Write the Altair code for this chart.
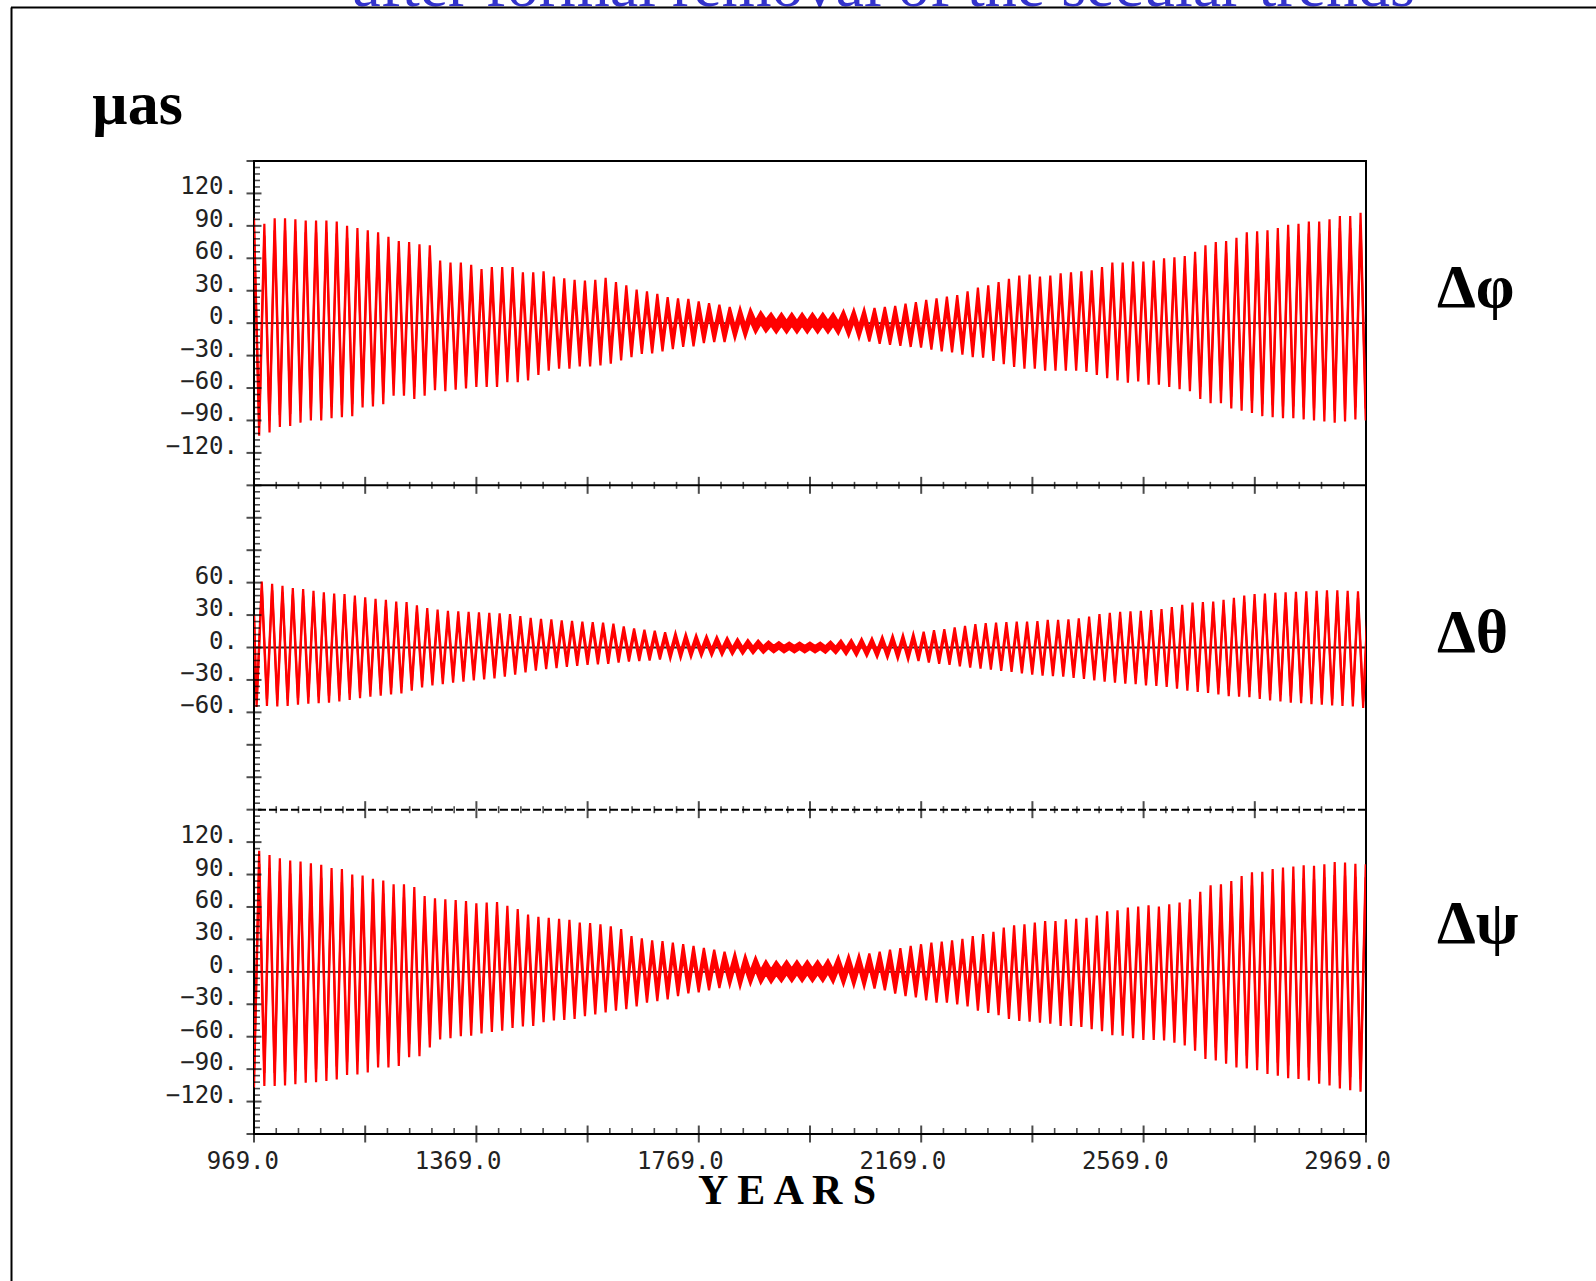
import altair as alt
import pandas as pd

# ---------------- data ----------------
X_START, X_END = 969.0, 2969.0
PERIOD = 18.6          # years per main oscillation cycle (read from peak spacing)

# Delta phi : upper peaks / lower troughs of each cycle (micro-arcsec)
phi_hi = [97, 92, 97, 97, 96, 95, 95, 95, 94, 90, 88, 86, 84, 80, 76, 75, 73, 72,
          58, 56, 56, 54, 50, 52, 52, 52, 47, 47, 48, 43, 41.5, 40, 39.5, 40, 42, 38, 35, 31,
          29.5, 27, 24, 23, 22.5, 20, 18.5, 17, 15, 14, 13, 10.5, 9, 9, 9, 9, 9, 9, 9, 11.5,
          12.5, 13, 14, 15, 16, 18, 19.5, 21.5, 23, 24.5, 26, 29.5, 33, 35, 38, 41, 44, 45, 43, 44, 46, 47,
          48, 49, 52, 56, 56, 57, 57, 58, 60, 61, 62, 66, 72, 75, 76, 79, 84, 85, 86, 88, 91, 92, 94, 94, 96, 99, 99, 102]
phi_lo = [-104, -101, -96, -95, -92, -90, -90, -88, -87, -86, -78, -77, -75, -67, -67, -70, -67, -62,
          -63, -61.5, -60.5, -59, -59, -59, -54.5, -54.5, -53, -48, -44, -42, -42, -40, -40, -39, -37.5, -34.5, -31.5, -28.5,
          -28, -26, -24, -22, -21.5, -18.5, -17.5, -17.5, -14.5, -13, -9, -8, -9, -9, -9, -9, -9, -9, -10, -12,
          -14, -17, -19, -20, -21, -22, -22.5, -24.5, -26, -27, -29, -31.5, -32, -35, -38, -40.5, -42, -42, -44, -44, -44, -44,
          -45, -48, -51, -53, -55, -54, -57, -57, -59, -61, -63, -70, -74, -74, -79, -81, -83, -86, -87, -88, -88, -89, -90, -91, -92, -91, -89, -90]

# Delta theta
theta_start = 30
theta_hi = [61, 59, 57, 55, 54, 52.5, 51, 50, 49.5, 48, 46.5, 45, 44, 42.5, 42, 39, 36.5, 35, 34, 33.5,
            33, 32.5, 32, 31.5, 31, 29, 27.5, 26.5, 26, 25, 24.5, 24, 23.5, 23, 22, 19.5, 17.5, 16.5, 15.5, 14,
            13.5, 12.5, 11.5, 10.5, 10, 9, 8, 7, 6.5, 5.5, 5, 4.5, 4.5, 4.5, 4.5, 5.5, 6.5, 7, 8, 8.5,
            10, 11, 11.5, 12.5, 14.5, 16, 17, 18.5, 20, 21.5, 22.5, 23, 23.5, 24, 24, 24.5, 25.5, 25.5, 26, 27,
            28.5, 31, 32, 33, 33.5, 34, 34.5, 35.5, 37.5, 39.5, 41.5, 42, 42.5, 44, 46, 48, 49.5, 50, 50.5, 51, 51.5, 52, 52.5, 53, 53, 52.5, 52, 51]
theta_lo = [-55, -54, -54.5, -54, -53, -52, -51.5, -51, -50, -48.5, -47, -45.5, -44.5, -43.5, -42.5, -40, -37, -35, -34, -32.5,
            -31.5, -30.5, -29.5, -28.5, -27, -25, -23, -21.5, -20, -19, -18, -17, -16, -15.5, -15, -14, -13, -12.5, -12, -11,
            -10.5, -10, -9, -8, -7.5, -7, -6.5, -6, -5.5, -5, -4.5, -4.5, -4.5, -4.5, -4.5, -5, -5.5, -6.5, -7.5, -8,
            -9, -9.5, -10.5, -11.5, -12.5, -14, -15, -16, -17.5, -18.5, -19.5, -20.5, -21.5, -22.5, -24, -25, -26, -26.5, -27, -28,
            -29, -30.5, -31.5, -32.5, -33.5, -34, -35, -35.5, -36.5, -38, -40, -41, -42, -43.5, -45, -45.5, -46, -47.5, -49, -50, -51, -51.5, -52.5, -53, -53.5, -54, -54.5, -56]

# Delta psi
psi_hi = [112, 108, 105, 103, 102, 100.5, 99, 96, 95, 90, 89, 86, 84.5, 81, 81, 78.5, 70, 68,
          67, 66.5, 65.5, 63.5, 64, 64.5, 61, 58, 53, 51, 50, 49, 48, 45.5, 45, 44, 42, 39.5, 33, 31,
          29, 28.5, 27, 25.5, 24, 22, 20.5, 18.5, 17, 15, 13.5, 10, 9.5, 10, 10, 10, 10, 11, 14, 15,
          15.5, 17, 18.5, 20.5, 22, 24, 25.5, 27, 28, 29, 30.5, 33, 35, 37, 41, 43, 44, 45.5, 47, 47, 48.5, 49,
          50, 52, 56, 57, 59.5, 60.5, 61.5, 60.5, 62.5, 64, 67, 74, 80, 81, 84, 88.5, 92, 92.5, 95, 96.5, 97.5, 98.5, 98, 99.5, 101.5, 101, 100, 99.5]
psi_lo = [-107, -105.5, -105.5, -105, -104, -102.5, -102, -101, -99.5, -95.5, -95, -93, -88.5, -88.5, -87, -79, -78, -70,
          -62.5, -61.5, -59.5, -59, -57, -55.5, -54.5, -52, -50.5, -50, -46.5, -45, -44.5, -43.5, -41, -39.5, -37.5, -36, -34.5, -32,
          -28.5, -27, -25.5, -22.5, -20, -19, -17, -15, -12.5, -14, -11.5, -10.5, -10, -9, -9, -9, -9, -9, -10, -12,
          -13, -14, -15.5, -17, -20, -22.5, -23.5, -26.5, -28.5, -28.5, -30, -32, -36, -38, -40, -43.5, -45.5, -46, -47, -48, -50, -50,
          -51, -53, -55, -58.5, -59, -61.5, -63, -63, -63.5, -65.5, -68, -73, -80.5, -82, -85, -88.5, -89.5, -91, -94.5, -96, -98.5, -99, -100.5, -103.5, -105, -108, -109.5, -111]

# half-width of the short-period smear seen around the curve
smear = {"phi": 5.5, "theta": 3, "psi": 6}

# tick / label values
x_label_years = [969, 1369, 1769, 2169, 2569, 2969]
x_major_years = [969, 1169, 1369, 1569, 1769, 1969, 2169, 2369, 2569, 2769, 2969]
x_minor_step = 40
y_labels_outer = [-120, -90, -60, -30, 0, 30, 60, 90, 120]
y_labels_middle = [-60, -30, 0, 30, 60]
panel_offsets = {"phi": 300, "theta": 0, "psi": -300}
panel_names = ["\u0394\u03c6", "\u0394\u03b8", "\u0394\u03c8"]

# ---------------- build tables ----------------
rows = []


def add(panel, hi, lo, hi_off, lo_off, start=None):
    off = panel_offsets[panel]
    h = smear[panel]
    if start is not None:
        rows.append(dict(panel=panel, year=X_START, up=start + off, dn=start + off))
    for i in range(len(hi)):
        rows.append(dict(panel=panel, year=X_START + hi_off + PERIOD * i,
                         up=hi[i] + off, dn=hi[i] - 2 * h + off))
        rows.append(dict(panel=panel, year=X_START + lo_off + PERIOD * i,
                         up=lo[i] + 2 * h + off, dn=lo[i] + off))


add("phi", phi_hi, phi_lo, 0.0, 9.3)
add("theta", theta_hi, theta_lo, 14.0, 4.7, start=theta_start)
add("psi", psi_hi, psi_lo, 9.3, 0.0)
sig = pd.DataFrame(rows).sort_values(["panel", "year"])

xs = alt.Scale(domain=[X_START, X_END], nice=False, zero=False)
ys = alt.Scale(domain=[-450, 450], nice=False, zero=False)


def X(f="x"):
    return alt.X(f"{f}:Q", scale=xs, axis=None)


def Y(f="y"):
    return alt.Y(f"{f}:Q", scale=ys, axis=None)


RED = "#ff0000"

# zero lines
zero_df = pd.DataFrame({"y": list(panel_offsets.values())})
zero = alt.Chart(zero_df).mark_rule(color="#222222", strokeWidth=1.8).encode(y=Y())

band = alt.Chart(sig).mark_area(color=RED, opacity=1, clip=True).encode(
    x=X("year"), y=Y("dn"), y2="up:Q", detail="panel:N")
line_up = alt.Chart(sig).mark_line(color=RED, strokeWidth=2.2, clip=True).encode(
    x=X("year"), y=Y("up"), detail="panel:N")
line_dn = alt.Chart(sig).mark_line(color=RED, strokeWidth=2.2, clip=True).encode(
    x=X("year"), y=Y("dn"), detail="panel:N")

sep_solid = alt.Chart(pd.DataFrame({"y": [150]})).mark_rule(color="black", strokeWidth=2).encode(y=Y())
sep_dash = alt.Chart(pd.DataFrame({"y": [-150]})).mark_rule(
    color="black", strokeWidth=2, strokeDash=[8, 3]).encode(y=Y())

# y ticks on left axis
y_major = list(range(-450, 451, 30))
y_minor = [v for v in range(-450, 451, 6) if v % 30 != 0]
ytm = alt.Chart(pd.DataFrame({"x": X_START, "y": y_major})).mark_tick(
    orient="horizontal", size=15, thickness=2, color="black").encode(x=X(), y=Y())
ytn = alt.Chart(pd.DataFrame({"x": X_START, "y": y_minor})).mark_tick(
    orient="horizontal", size=6, thickness=1.6, color="black", xOffset=3).encode(x=X(), y=Y())

# x ticks on separators and bottom
x_minor = [X_START + x_minor_step * k for k in range(51) if (x_minor_step * k) % 200 != 0]
xm_rows = [dict(x=yr, y=lvl) for lvl in (150, -150, -450) for yr in x_major_years]
xtm = alt.Chart(pd.DataFrame(xm_rows)).mark_tick(
    orient="vertical", size=17, thickness=2, color="black").encode(x=X(), y=Y())
xn_rows = [dict(x=yr, y=lvl) for lvl in (150, -150) for yr in x_minor]
xtn = alt.Chart(pd.DataFrame(xn_rows)).mark_tick(
    orient="vertical", size=7, thickness=1.6, color="black").encode(x=X(), y=Y())
xnb = alt.Chart(pd.DataFrame({"x": x_minor, "y": -450})).mark_tick(
    orient="vertical", size=6, thickness=1.6, color="black", yOffset=-3).encode(x=X(), y=Y())


# tick labels
def fmt(v):
    return ("\u2212" if v < 0 else "") + f"{abs(v)}."


yl_rows = []
for v in y_labels_outer:
    yl_rows.append(dict(x=X_START, y=v + 300, t=fmt(v)))
    yl_rows.append(dict(x=X_START, y=v - 300, t=fmt(v)))
for v in y_labels_middle:
    yl_rows.append(dict(x=X_START, y=v, t=fmt(v)))
ylab = alt.Chart(pd.DataFrame(yl_rows)).mark_text(
    font="DejaVu Sans Mono", fontSize=24, color="#222222", align="right",
    baseline="alphabetic", dx=-16, dy=1).encode(x=X(), y=Y(), text="t:N")

xlab = alt.Chart(pd.DataFrame({"x": x_label_years, "y": -450,
                               "t": [f"{v}.0" for v in x_label_years]})).mark_text(
    font="DejaVu Sans Mono", fontSize=24, color="#222222", align="right",
    baseline="alphabetic", dx=25, dy=35).encode(x=X(), y=Y(), text="t:N")


# annotations (positions relative to the plot origin)
def note(txt, x, y, size, color="black", weight="bold", align="left"):
    return alt.Chart(pd.DataFrame({"t": [txt]})).mark_text(
        font="Liberation Serif", fontSize=size, fontWeight=weight, color=color,
        align=align, baseline="alphabetic").encode(x=alt.value(x), y=alt.value(y), text="t:N")


title = note("after formal removal of the secular trends", 629.5, -155, 64,
             color="#3333cc", weight="normal", align="center")
unit = note("\u00b5as", -162, -37, 62)
lab1 = note(panel_names[0], 1183, 146, 62)
lab2 = note(panel_names[1], 1183, 491, 62)
lab3 = note(panel_names[2], 1183, 782, 62)
years = note("Y E A R S", 533, 1043, 42, align="center")

one = pd.DataFrame({"a": [0]})
frame_top = alt.Chart(one).mark_rule(color="black", strokeWidth=2).encode(
    x=alt.value(-243), x2=alt.value(1342), y=alt.value(-153.5))
frame_left = alt.Chart(one).mark_rule(color="black", strokeWidth=2).encode(
    x=alt.value(-242.5), y=alt.value(-153.5), y2=alt.value(1120))

chart = alt.layer(
    zero, band, line_up, line_dn, sep_solid, sep_dash, ytm, ytn, xtm, xtn, xnb, ylab, xlab,
    title, unit, lab1, lab2, lab3, years, frame_top, frame_left
).properties(
    width=1112, height=973,
    autosize=alt.AutoSizeParams(type="none"),
    padding={"left": 254, "top": 161, "right": 230, "bottom": 147},
    background="white",
).configure_view(stroke="black", strokeWidth=2)

chart.save("out.html", embed_options={"renderer": "svg", "actions": False})
